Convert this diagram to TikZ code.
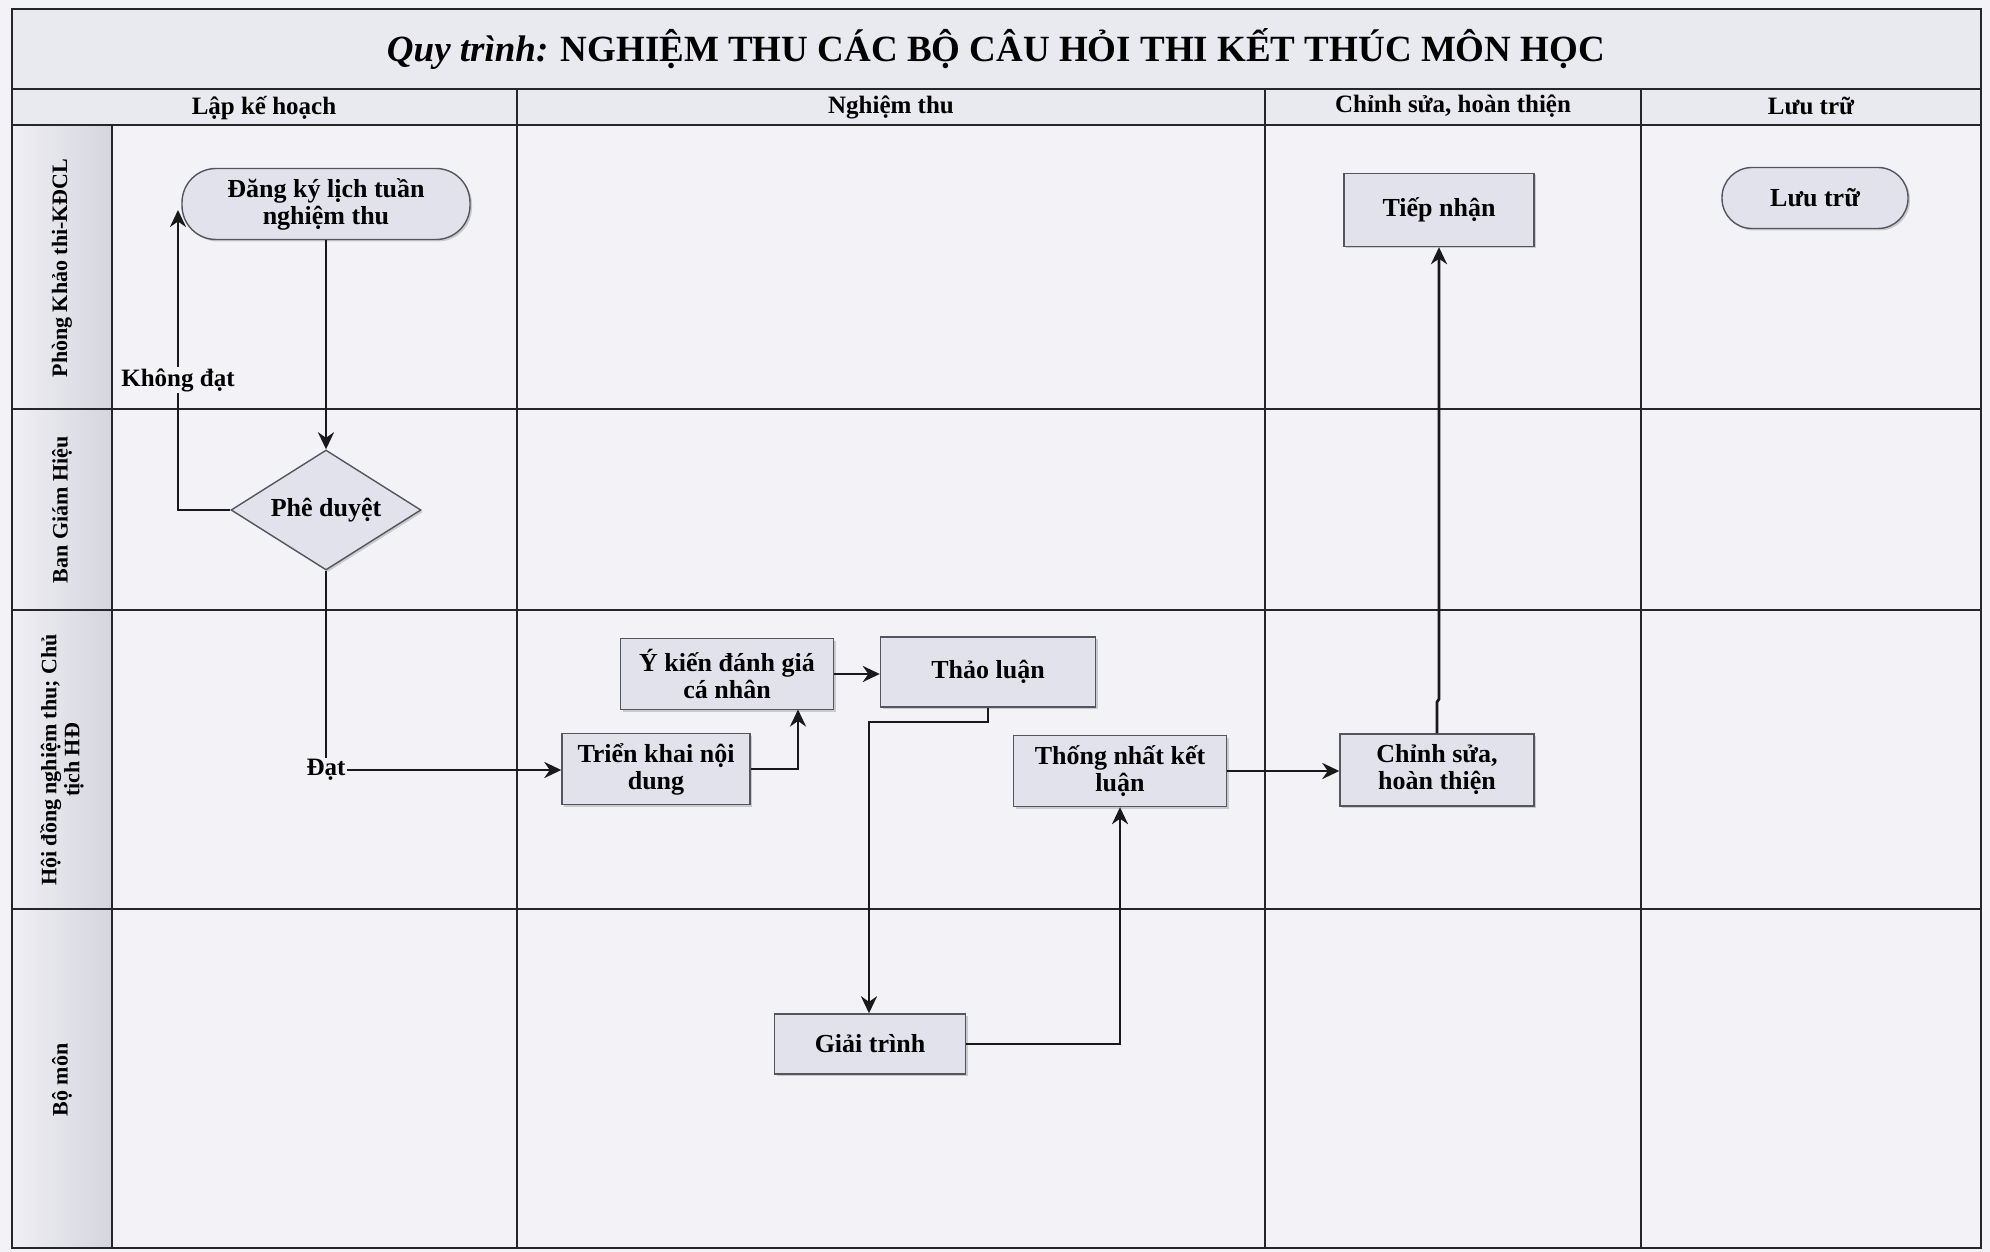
\documentclass[tikz,border=0pt]{standalone}
\usepackage{fontspec}
\setmainfont{Liberation Serif}
\usetikzlibrary{shapes.geometric,arrows.meta,shadows}

\definecolor{bg}{HTML}{F2F2F7}
\definecolor{hdr}{HTML}{E9E9F0}
\definecolor{boxfill}{HTML}{E2E2EC}
\definecolor{boxline}{HTML}{55555F}
\definecolor{gridc}{HTML}{26262A}
\definecolor{lanel}{HTML}{EFEFF4}
\definecolor{laner}{HTML}{D5D5DE}

\begin{document}
\begin{tikzpicture}[x=1pt,y=-1pt,
  gridline/.style={draw=gridc,line width=2.4pt},
  boxshadow/.style={drop shadow={opacity=0.35,shadow xshift=2pt,shadow yshift=-2pt}},
  procbox/.style={rectangle,draw=boxline,fill=boxfill,line width=1.4pt,align=center,
    inner sep=2pt,font=\fontsize{26}{27}\selectfont\bfseries,boxshadow},
  stadium/.style={procbox,rounded corners=34pt},
  decision/.style={diamond,aspect=1.6,draw=boxline,fill=boxfill,line width=1.4pt,align=center,
    inner sep=0pt,font=\fontsize{26}{27}\selectfont\bfseries,boxshadow},
  flowlabel/.style={font=\fontsize{25}{25}\selectfont\bfseries,inner sep=1pt},
  headtext/.style={font=\fontsize{25}{25}\selectfont\bfseries},
  lanetext/.style={font=\fontsize{22}{23}\selectfont\bfseries,rotate=90,align=center},
  arr/.style={draw=black!90,line width=2.8pt,-{Stealth[length=17pt,width=16pt]}},
  plainline/.style={draw=black!90,line width=2.8pt}
]
\useasboundingbox (0,0) rectangle (1990,1252);
\fill[bg] (0,0) rectangle (1990,1252);

% header fills
\fill[hdr] (12,9) rectangle (1981,125);
\fill[left color=lanel,right color=laner] (12,125) rectangle (112,1248);

% grid
\draw[gridline] (12,9) rectangle (1981,1248);
\draw[gridline] (12,89) -- (1981,89);
\draw[gridline] (12,125) -- (1981,125);
\draw[gridline] (112,125) -- (112,1248);
\draw[gridline] (517,89) -- (517,1248);
\draw[gridline] (1265,89) -- (1265,1248);
\draw[gridline] (1641,89) -- (1641,1248);
\draw[gridline] (12,409) -- (1981,409);
\draw[gridline] (12,610) -- (1981,610);
\draw[gridline] (12,909) -- (1981,909);

% title and headers
\node[font=\fontsize{37}{37}\selectfont\bfseries] (title) at (996,49)
  {\textit{Quy trình:} NGHIỆM THU CÁC BỘ CÂU HỎI THI KẾT THÚC MÔN HỌC};
\node[headtext] (h1) at (264,108) {Lập kế hoạch};
\node[headtext] (h2) at (891,107) {Nghiệm thu};
\node[headtext] (h3) at (1453,106) {Chỉnh sửa, hoàn thiện};
\node[headtext] (h4) at (1811,106) {Lưu trữ};

% lane labels
\node[lanetext] (l1) at (62,268) {Phòng Khảo thi-KĐCL};
\node[lanetext] (l2) at (62,510) {Ban Giám Hiệu};
\node[lanetext] (l3) at (62,760) {Hội đồng nghiệm thu; Chủ\\tịch HĐ};
\node[lanetext] (l4) at (62,1080) {Bộ môn};

% nodes
\node[stadium,minimum width=288pt,minimum height=71pt] (dk) at (326,204) {Đăng ký lịch tuần\\nghiệm thu};
\node[decision,minimum width=190pt,minimum height=120pt] (pd) at (326,510) {Phê duyệt};
\node[procbox,minimum width=188pt,minimum height=71pt] (trien) at (656,769) {Triển khai nội\\dung};
\node[procbox,minimum width=213pt,minimum height=71pt] (ykien) at (727,674) {Ý kiến đánh giá\\cá nhân};
\node[procbox,minimum width=215pt,minimum height=70pt] (thao) at (988,672) {Thảo luận};
\node[procbox,minimum width=213pt,minimum height=71pt] (thong) at (1120,771) {Thống nhất kết\\luận};
\node[procbox,minimum width=191pt,minimum height=60pt] (giai) at (870,1044) {Giải trình};
\node[procbox,minimum width=194pt,minimum height=72pt] (chinh) at (1437,770) {Chỉnh sửa,\\hoàn thiện};
\node[procbox,minimum width=190pt,minimum height=73pt] (tiep) at (1439,210) {Tiếp nhận};
\node[stadium,rounded corners=30pt,minimum width=186pt,minimum height=61pt] (luu) at (1815,198) {Lưu trữ};

% helper coordinates
\coordinate (kdturn) at (178,510);
\coordinate (kdend) at (178,210);
\coordinate (c1) at (798,709.5);
\coordinate (c2) at (988,722);
\coordinate (c3) at (869,722);
\coordinate (j1) at (1437,702);
\coordinate (j2) at (1439,699);

% connectors
\draw[arr] (dk.south) -- (pd.north);
\draw[arr] (pd.west) -- (kdturn) -- (kdend);
\node[flowlabel,fill=bg] (khong) at (178,380) {Không đạt};
\node[flowlabel] (dat) at (326,770) {Đạt};
\draw[plainline] (pd.south) -- (dat.north);
\draw[arr] (dat.east) -- (dat.east -| trien.west);
\draw[arr] (trien.east) -| (c1);
\draw[arr] (ykien.east) -- (ykien.east -| thao.west);
\draw[arr] (thao.south) -- (c2) -- (c3) -- (c3 |- giai.north);
\draw[arr] (giai.east) -| (thong.south);
\draw[arr] (thong.east) -- (thong.east -| chinh.west);
\draw[arr] (chinh.north) -- (j1) -- (j2) -- (tiep.south);
\end{tikzpicture}
\end{document}
